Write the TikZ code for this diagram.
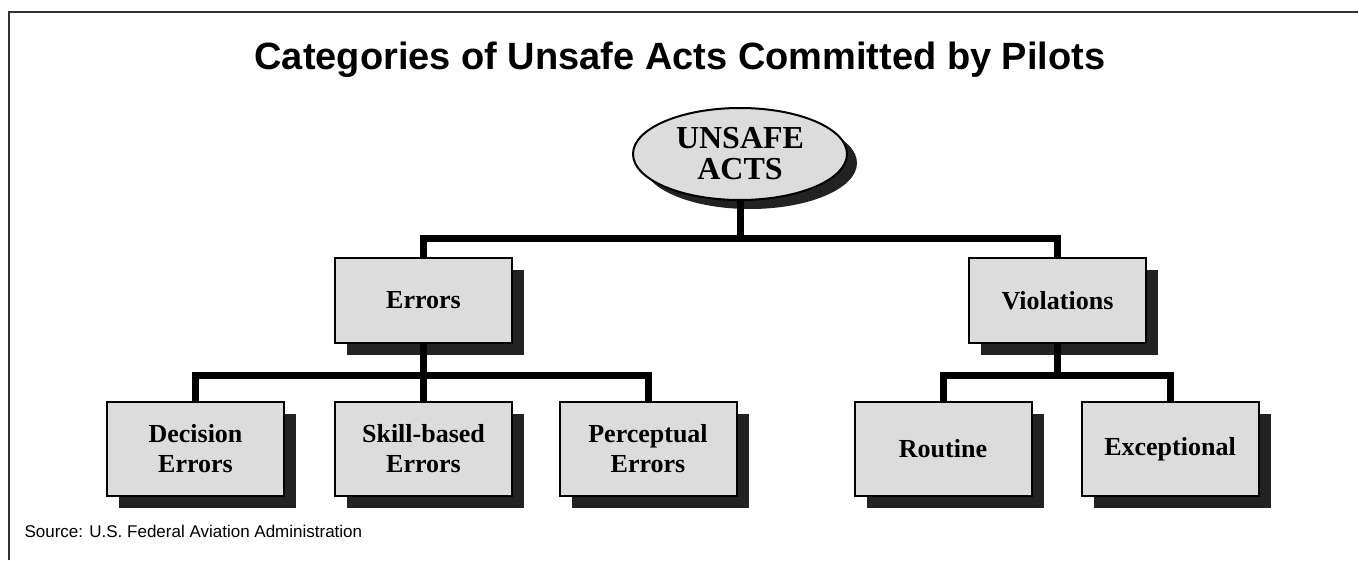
\documentclass[tikz,border=0pt]{standalone}
\usepackage{fontspec}
\setmainfont{Liberation Serif}
\newfontfamily\arialfont{Liberation Sans}
\usepackage{tikz}
\usetikzlibrary{shapes.geometric,shadows,calc}
\usepackage{xcolor}
\definecolor{boxgray}{HTML}{DCDCDC}
\definecolor{shadowgray}{HTML}{222222}
\definecolor{framegray}{HTML}{333333}

\begin{document}
\begin{tikzpicture}[x=1pt,y=-1pt,
    box/.style={draw,line width=2pt,fill=boxgray,minimum width=177pt,minimum height=85pt,
      align=center,font=\fontsize{26}{30}\selectfont\bfseries,
      drop shadow={shadow xshift=12pt,shadow yshift=-12pt,fill=shadowgray,opacity=1}},
    leaf/.style={box,minimum height=94pt},
    link/.style={line width=7pt,line join=miter}]
      \useasboundingbox (0,0) rectangle (1359,560);

      % Drawing the frame
      \draw[framegray,line width=1.5pt] (9,560) -- (9,12) -- (1358,12);

      % Title and source
      \node[font=\arialfont\fontsize{38}{40}\selectfont\bfseries] (title) at (680,60)
        {Categories of Unsafe Acts Committed by Pilots};
      \node[anchor=west,font=\arialfont\fontsize{17}{20}\selectfont] (src) at (21,531)
        {Source: U.S. Federal Aviation Administration};

      % Drawing the boxes
      \node[ellipse,draw,line width=2pt,fill=boxgray,minimum width=214pt,minimum height=92pt,
        inner sep=0pt,align=center,font=\fontsize{32}{31}\selectfont\bfseries,
        drop shadow={shadow xshift=10pt,shadow yshift=-9pt,fill=shadowgray,opacity=1}]
        (acts) at (740,154) {UNSAFE\\ACTS};
      \node[box] (err) at (423.5,300.5) {Errors};
      \node[box] (viol) at (1057.5,300.5) {Violations};
      \node[leaf] (dec) at (195.5,449) {Decision\\Errors};
      \node[leaf] (skill) at (423.5,449) {Skill-based\\Errors};
      \node[leaf] (perc) at (648,449) {Perceptual\\Errors};
      \node[leaf] (rout) at (943,449) {Routine};
      \node[leaf] (exc) at (1170,449) {Exceptional};

      % Drawing the connectors
      \coordinate (top) at (0,238);
      \coordinate (mid) at (0,375);
      \draw[link] (acts.south) -- (acts.south |- top) -| (err.north);
      \draw[link] (acts.south) -- (acts.south |- top) -| (viol.north);
      \draw[link] (err.south) -- (err.south |- mid) -| (dec.north);
      \draw[link] (err.south) -- (err.south |- mid) -| (perc.north);
      \draw[link] (err.south) -- (skill.north);
      \draw[link] (viol.south) -- (viol.south |- mid) -| (rout.north);
      \draw[link] (viol.south) -- (viol.south |- mid) -| (exc.north);
    \end{tikzpicture}
\end{document}
